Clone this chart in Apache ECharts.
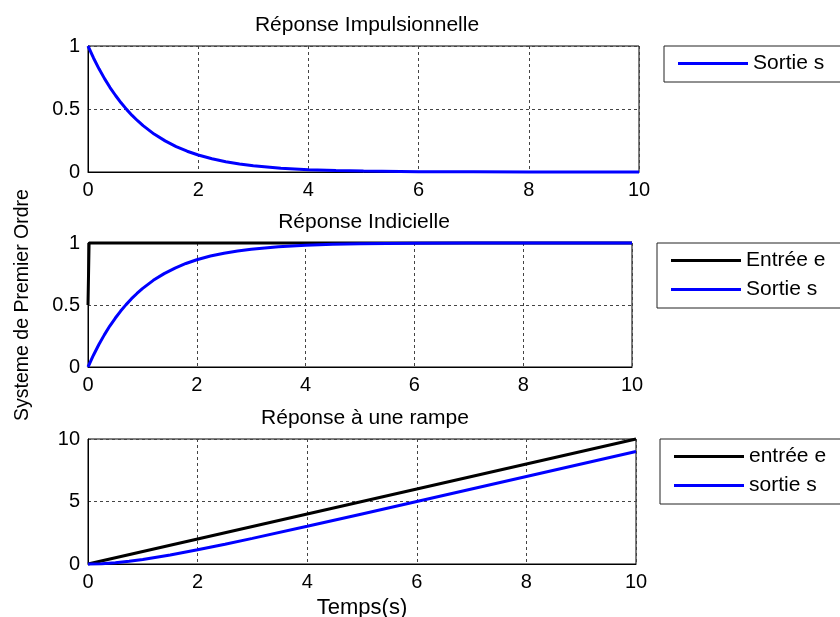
<!DOCTYPE html>
<html><head><meta charset="utf-8">
<script src="https://cdn.jsdelivr.net/npm/echarts@6/dist/echarts.min.js"></script>
<style>html,body{margin:0;padding:0;background:#fff}#c{width:840px;height:617px}</style>
</head><body><div id="c"></div>
<script>
// Impulse response (sortie s)
const tImp = [0,0.1,0.2,0.3,0.4,0.5,0.6,0.7,0.8,0.9,1.0,1.2,1.4,1.6,1.8,2.0,2.25,2.5,2.75,3.0,3.5,4.0,4.5,5.0,6.0,7.0,8.0,10.0];
const sImp = [1,0.905,0.819,0.741,0.670,0.607,0.549,0.497,0.449,0.407,0.368,0.301,0.247,0.202,0.165,0.135,0.105,0.082,0.064,0.050,0.030,0.018,0.011,0.007,0.002,0.001,0,0];
// Step response
const tStepIn = [0,0.02,10];
const eStep = [0.5,1,1];
const tStep = [0,0.1,0.2,0.3,0.4,0.5,0.6,0.7,0.8,0.9,1.0,1.2,1.4,1.6,1.8,2.0,2.25,2.5,2.75,3.0,3.5,4.0,4.5,5.0,6.0,7.0,8.0,10.0];
const sStep = [0,0.095,0.181,0.259,0.330,0.393,0.451,0.503,0.551,0.593,0.632,0.699,0.753,0.798,0.835,0.865,0.895,0.918,0.936,0.950,0.970,0.982,0.989,0.993,0.998,0.999,1,1];
// Ramp response
const tRampIn = [0,10];
const eRamp = [0,10];
const tRamp = [0,0.25,0.5,0.75,1.0,1.5,2.0,2.5,3.0,4.0,5.0,6.0,8.0,10.0];
const sRamp = [0,0.029,0.107,0.222,0.368,0.723,1.135,1.582,2.05,3.018,4.007,5.002,7.0,9.0];

const titles = ['Réponse Impulsionnelle','Réponse Indicielle','Réponse à une rampe'];

const zip = (a,b)=>a.map((v,i)=>[v,b[i]]);
const FONT = 'Liberation Sans';
const grids = [
  {left:88, top:46, width:551, height:126},
  {left:88, top:243, width:544, height:124},
  {left:88, top:439, width:548, height:125}
];
const split = {show:true, lineStyle:{color:'#444', type:[3,3], width:1}};
const xAxes = grids.map((g,i)=>({
  type:'value', gridIndex:i, min:0, max:10, interval:2,
  axisLine:{show:true, onZero:false, lineStyle:{color:'#000'}},
  axisTick:{show:false},
  axisLabel:{color:'#000', fontSize:20, fontFamily:FONT, margin:8},
  splitLine:split,
  name: i===2 ? 'Temps(s)' : '', nameLocation:'middle', nameGap:33,
  nameTextStyle:{color:'#000', fontSize:22, fontFamily:FONT}
}));
const yAxes = grids.map((g,i)=>({
  type:'value', gridIndex:i, min:0, max: i===2?10:1, interval: i===2?5:0.5,
  axisLine:{show:true, lineStyle:{color:'#000'}},
  axisTick:{show:false},
  axisLabel:{color:'#000', fontSize:20, fontFamily:FONT, margin:8},
  splitLine:split,
  name: i===1 ? 'Systeme de Premier Ordre' : '', nameLocation:'middle', nameGap:55,
  nameTextStyle:{color:'#000', fontSize:19.5, fontFamily:FONT}
}));
const BLUE = '#0000ff', BLACK = '#000000';
const mk = (name, data, idx, color)=>({
  name, type:'line', data, xAxisIndex:idx, yAxisIndex:idx, symbol:'none',
  clip:false, smooth:false, animation:false,
  lineStyle:{color, width:3}, itemStyle:{color}
});
const legendBase = {
  orient:'vertical', icon:'rect', itemWidth:70, itemHeight:3, itemGap:8,
  backgroundColor:'#fff', borderColor:'#222', borderWidth:1,
  textStyle:{color:'#000', fontSize:21, fontFamily:FONT},
  padding:[7,30,8,14]
};
const option = {
  backgroundColor:'#fff',
  animation:false,
  title: [
    {text:titles[0], left:362, top:10},
    {text:titles[1], left:359, top:207},
    {text:titles[2], left:360, top:403}
  ].map(t=>Object.assign({textAlign:'center', textStyle:{color:'#000', fontSize:21, fontWeight:'normal', fontFamily:FONT}}, t)),
  grid: grids.map(g=>Object.assign({show:true, borderColor:'#000', borderWidth:1, backgroundColor:'#fff', containLabel:false, outerBoundsMode:'none'}, g)),
  xAxis: xAxes,
  yAxis: yAxes,
  legend: [
    Object.assign({}, legendBase, {left:664, top:46, data:['Sortie s']}),
    Object.assign({}, legendBase, {left:657, top:243, data:['Entrée e','Sortie s']}),
    Object.assign({}, legendBase, {left:660, top:439, data:['entrée e','sortie s']})
  ],
  series: [
    mk('Sortie s', zip(tImp,sImp), 0, BLUE),
    mk('Entrée e', zip(tStepIn,eStep), 1, BLACK),
    mk('Sortie s', zip(tStep,sStep), 1, BLUE),
    mk('entrée e', zip(tRampIn,eRamp), 2, BLACK),
    mk('sortie s', zip(tRamp,sRamp), 2, BLUE)
  ]
};
echarts.init(document.getElementById('c'), null, {renderer:'canvas'}).setOption(option);
</script></body></html>
